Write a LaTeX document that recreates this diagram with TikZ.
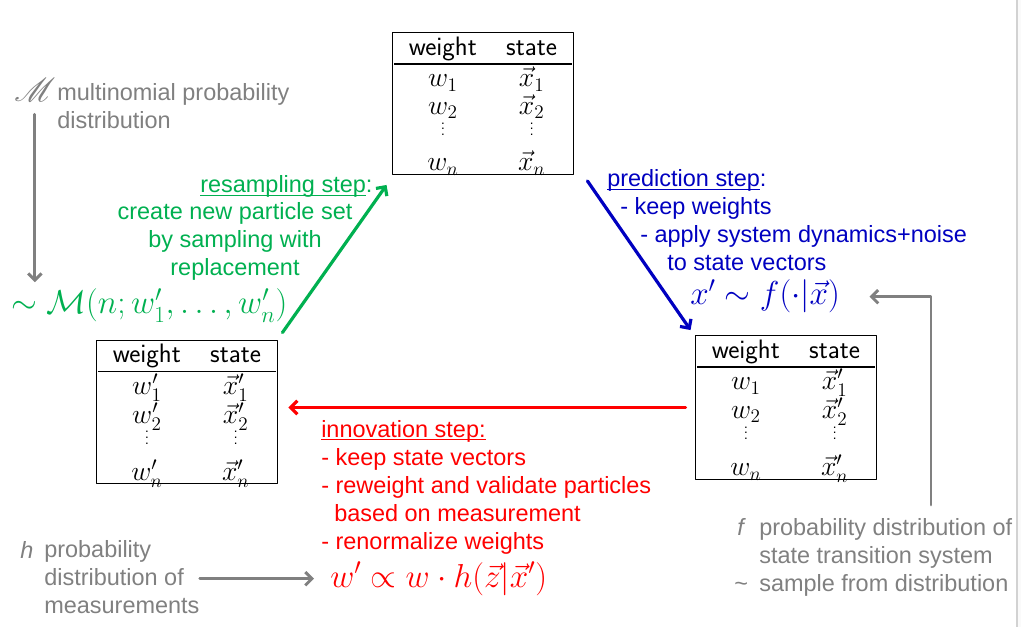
\documentclass[tikz,border=0pt]{standalone}
\usepackage{fontspec}
\setmainfont{Liberation Sans}
\usepackage{mathrsfs}
\usetikzlibrary{arrows.meta}
\definecolor{stepgreen}{RGB}{0,176,80}
\definecolor{stepblue}{RGB}{0,0,192}
\definecolor{stepred}{RGB}{255,0,0}
\definecolor{notegray}{RGB}{128,128,128}
\setlength{\tabcolsep}{11pt}
\setlength{\arrayrulewidth}{0.8pt}
\newcommand{\tdots}{\raisebox{5.5pt}{\vbox{\fontsize{10}{12}\selectfont\baselineskip=4.3pt\hbox{.}\hbox{.}\hbox{.}}}}
\newcommand{\particles}[2]{%
  \begin{tabular}{cc}
  \sffamily weight & \sffamily state\rule{0pt}{15pt}\\ \hline
  $w#1_1$\rule{0pt}{16.8pt} & $\vec{x}#2_1$\\
  $w#1_2$ & $\vec{x}#2_2$\\
  \tdots & \tdots\\
  $w#1_n$ & $\vec{x}#2_n$\\[-5.5pt]
  \end{tabular}}

\begin{document}
\begin{tikzpicture}[x=0.75pt,y=-0.75pt,font=\fontsize{17.6}{21}\selectfont,
  line cap=round,line join=round,
  ptable/.style={draw,line width=1pt,inner xsep=1.5pt,inner ysep=2pt,font=\fontsize{20}{20.25}\selectfont},
  txt/.style={inner sep=0pt,anchor=base west,align=left},
  gnote/.style={txt,text=notegray},
  formula/.style={inner sep=0pt,anchor=base west,font=\fontsize{24}{28}\selectfont},
  flow/.style={line width=2.4pt,-{Straight Barb[length=5pt,width=10pt]}},
  graylink/.style={notegray,line width=2.2pt,-{Straight Barb[length=5pt,width=10pt]}}]
\useasboundingbox (0,0) rectangle (1021,627);
\fill[gray!4] (1017,0) rectangle (1021,627);
\draw[gray!35,line width=1.5pt] (1017,0) -- (1017,627);

% particle sets
\node[ptable] (ttab) at (483,103.5) {\particles{}{}};
\node[ptable] (ltab) at (187,412) {\particles{'}{'}};
\node[ptable] (rtab) at (786,407.5) {\particles{}{'}};

% resampling (multi-line texts placed by their last baseline)
\node[txt,text=stepgreen] (rshead) at (200,193) {\underline{\smash{resampling step}}:};
\node[txt,align=center,anchor=base,text=stepgreen] (rsbody) at (235,276) {create new particle set\\by sampling with\\replacement};
\node[formula,text=stepgreen] (lform) at (11,314) {$\sim\mathcal{M}(n;w'_1,\dots,w'_n)$};
\node[gnote,font=\fontsize{23}{26}\selectfont] (mscr) at (14,102) {$\mathscr{M}$};
\node[gnote] (mtext) at (57,129) {multinomial probability\\distribution};

% prediction
\node[txt,text=stepblue] (prtext) at (607,271) {\underline{\smash{prediction step}}:\\\hspace*{9.75pt}- keep weights\\\hspace*{24.75pt}- apply system dynamics+noise\\\hspace*{45pt}to state vectors};
\node[formula,text=stepblue] (xform) at (690,305) {$x'\sim f(\cdot|\vec{x})$};
\node[gnote] (fsym) at (737,535) {\textit{f}};
\node[gnote] (tsym) at (734,591) {\textasciitilde};
\node[gnote] (ftext) at (759,591) {probability distribution of\\state transition system\\sample from distribution};
\coordinate (fbottom) at (931,505);

% innovation
\node[txt,text=stepred] (intext) at (321,549) {\underline{\smash{innovation step:}}\\- keep state vectors\\- reweight and validate particles\\\hspace*{9.75pt}based on measurement\\- renormalize weights};
\node[formula,text=stepred] (wform) at (330,587) {$w'\propto w\cdot h(\vec{z}|\vec{x}')$};
\node[gnote] (hsym) at (20,558) {\textit{h}};
\node[gnote] (htext) at (44,613) {probability\\distribution of\\measurements};

% steps
\draw[flow,stepgreen] ([xshift=3pt,yshift=5.25pt]ltab.north east) -- ([xshift=-3.75pt,yshift=-7.5pt]ttab.south west);
\draw[flow,stepblue] ([xshift=9.75pt,yshift=-4.5pt]ttab.south east) -- ([xshift=-3pt,yshift=3.75pt]rtab.north west);
\draw[flow,stepred,shorten <=6.75pt,shorten >=7.5pt] (rtab.west) -- (rtab.west -| ltab.east);
\draw[graylink,shorten <=9pt,shorten >=5pt] (mscr.south) -- (mscr.south |- lform.north);
\draw[graylink,shorten >=22pt] (fbottom) |- (xform.east);
\draw[graylink,shorten >=12pt] (htext.east |- wform.west) -- (wform.west);
\end{tikzpicture}
\end{document}
